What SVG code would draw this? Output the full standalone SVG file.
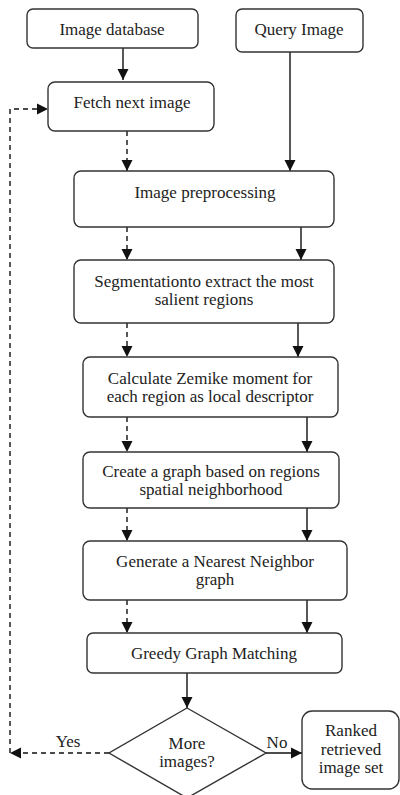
<svg xmlns="http://www.w3.org/2000/svg" width="400" height="795" viewBox="0 0 400 795">
<defs>
<marker id="ah" markerUnits="userSpaceOnUse" markerWidth="12" markerHeight="12" viewBox="0 0 12 12" refX="11" refY="6" orient="auto">
<path d="M0,0.5 L11,6 L0,11.5 Z" fill="#111"/>
</marker>
</defs>
<style>
.box{fill:#fff;stroke:#333;stroke-width:1.4}
.t{font-family:"Liberation Serif","Times New Roman",serif;font-size:17px;fill:#222;text-anchor:middle}
.c{fill:none;stroke:#111;stroke-width:1.4}
.d{stroke-dasharray:5,4}
</style>
<rect width="400" height="795" fill="#fff"/>
<g id="connectors">
<line class="c" x1="123" y1="48" x2="123" y2="80" marker-end="url(#ah)"/>
<line class="c" x1="290" y1="52" x2="290" y2="171" marker-end="url(#ah)"/>
<line class="c d" x1="127" y1="131" x2="127" y2="171" marker-end="url(#ah)"/>
<line class="c d" x1="127" y1="227" x2="127" y2="260" marker-end="url(#ah)"/>
<line class="c" x1="301" y1="227" x2="301" y2="260" marker-end="url(#ah)"/>
<line class="c d" x1="127" y1="323" x2="127" y2="357" marker-end="url(#ah)"/>
<line class="c" x1="298" y1="323" x2="298" y2="357" marker-end="url(#ah)"/>
<line class="c d" x1="127" y1="417" x2="127" y2="452" marker-end="url(#ah)"/>
<line class="c" x1="307" y1="417" x2="307" y2="452" marker-end="url(#ah)"/>
<line class="c d" x1="127" y1="508" x2="127" y2="541" marker-end="url(#ah)"/>
<line class="c" x1="307" y1="508" x2="307" y2="541" marker-end="url(#ah)"/>
<line class="c d" x1="127" y1="600" x2="127" y2="633" marker-end="url(#ah)"/>
<line class="c" x1="307" y1="600" x2="307" y2="633" marker-end="url(#ah)"/>
<line class="c" x1="187" y1="673" x2="187" y2="708" marker-end="url(#ah)"/>
<line class="c d" x1="109" y1="753" x2="10" y2="753" marker-end="url(#ah)"/>
<polyline class="c d" points="10,753 10,109 48,109" marker-end="url(#ah)"/>
<line class="c" x1="266" y1="753" x2="302" y2="753" marker-end="url(#ah)"/>
<text class="t" x="68" y="747">Yes</text>
<text class="t" x="277" y="748">No</text>
</g>
<g id="image-database">
<rect class="box" x="27" y="9" width="171" height="39" rx="6"/>
<text class="t" x="112" y="34.5">Image database</text>
</g>
<g id="query-image">
<rect class="box" x="236" y="9" width="127" height="43" rx="6"/>
<text class="t" x="299" y="35">Query Image</text>
</g>
<g id="fetch-next">
<rect class="box" x="48" y="82" width="166" height="49" rx="7"/>
<text class="t" x="132" y="108">Fetch next image</text>
</g>
<g id="preprocessing">
<rect class="box" x="74" y="171" width="260" height="56" rx="7"/>
<text class="t" x="205" y="198">Image preprocessing</text>
</g>
<g id="segmentation">
<rect class="box" x="74" y="260" width="260" height="63" rx="7"/>
<text class="t" x="204" y="287">Segmentationto extract the most</text>
<text class="t" x="204" y="305">salient regions</text>
</g>
<g id="zernike">
<rect class="box" x="83" y="357" width="255" height="60" rx="7"/>
<text class="t" x="210" y="384">Calculate Zemike moment for</text>
<text class="t" x="210" y="402">each region as local descriptor</text>
</g>
<g id="create-graph">
<rect class="box" x="83" y="452" width="256" height="56" rx="7"/>
<text class="t" x="211" y="477">Create a graph based on regions</text>
<text class="t" x="211" y="495">spatial neighborhood</text>
</g>
<g id="nn-graph">
<rect class="box" x="83" y="541" width="264" height="59" rx="7"/>
<text class="t" x="215" y="567">Generate a Nearest Neighbor</text>
<text class="t" x="215" y="585">graph</text>
</g>
<g id="greedy">
<rect class="box" x="87" y="633" width="255" height="40" rx="6"/>
<text class="t" x="214" y="659">Greedy Graph Matching</text>
</g>
<g id="decision">
<polygon class="box" points="187,708 266,753 187,798 109,753"/>
<text class="t" x="187" y="749">More</text>
<text class="t" x="187" y="767">images?</text>
</g>
<g id="ranked">
<rect class="box" x="302" y="711" width="97" height="78" rx="10"/>
<text class="t" x="351" y="736">Ranked</text>
<text class="t" x="351" y="754.5">retrieved</text>
<text class="t" x="351" y="773">image set</text>
</g>
</svg>
